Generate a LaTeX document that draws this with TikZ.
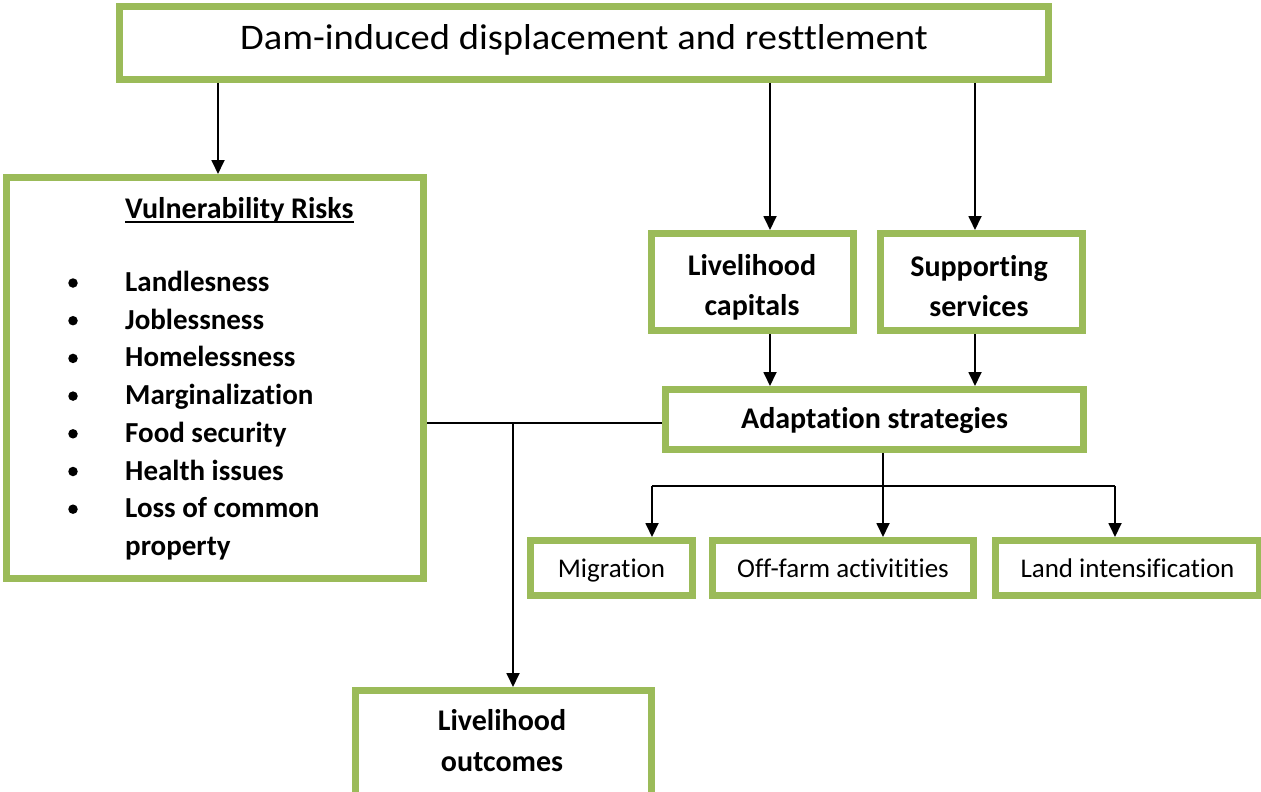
\documentclass[tikz,border=0pt]{standalone}
\usepackage{fontspec}
\setmainfont{Carlito}[Ligatures=NoCommon]
\newfontfamily\titlefont{Carlito}[Ligatures=NoCommon, FakeStretch=1.07]
\usetikzlibrary{arrows.meta}
\definecolor{boxgreen}{HTML}{9BBB59}
\begin{document}
\begin{tikzpicture}[x=1pt,y=-1pt,
  gbox/.style={draw=boxgreen, line width=7pt, fill=white, inner sep=0pt, align=center},
  arr/.style={line width=1.8pt, -{Triangle[length=14pt,width=13pt]}},
  conn/.style={line width=1.8pt},
  boldtxt/.style={font=\fontsize{29}{40}\selectfont\bfseries},
  boxbold/.style={font=\fontsize{30}{40}\selectfont\bfseries},
  plaintxt/.style={font=\fontsize{27}{33}\selectfont, text height=24pt, text depth=5.4pt},
  linetxt/.style={boxbold, anchor=base, inner sep=0pt},
  dot/.style={circle, fill=black, inner sep=0pt, minimum size=9.5pt},
  itemtxt/.style={boldtxt, anchor=base west, inner sep=0pt}]
\useasboundingbox (0,0) rectangle (1261,792);
\clip (0,0) rectangle (1261,792);
\fill[white] (0,0) rectangle (1261,792);

% boxes
\node[gbox, minimum width=929pt, minimum height=73pt, font=\titlefont\fontsize{36}{44}\selectfont, text height=26pt, text depth=12.6pt] (top) at (584,43) {Dam-induced displacement and resttlement};
\node[gbox, minimum width=417pt, minimum height=401pt] (vuln) at (215,378) {};
\node[gbox, minimum width=202pt, minimum height=97pt] (cap) at (752.5,282) {};
\node[gbox, minimum width=202pt, minimum height=97pt] (serv) at (981.5,282) {};
\node[gbox, boxbold, text height=24pt, text depth=6.4pt, minimum width=418pt, minimum height=60pt] (adapt) at (874.5,419.5) {Adaptation strategies};
\node[gbox, plaintxt, minimum width=162pt, minimum height=55pt] (migr) at (611.5,568) {Migration};
\node[gbox, plaintxt, minimum width=261pt, minimum height=55pt] (off) at (843,568) {Off-farm activitities};
\node[gbox, plaintxt, minimum width=264pt, minimum height=55pt] (land) at (1127.5,568) {Land intensification};
\node[gbox, minimum width=296pt, minimum height=106pt] (outc) at (503.5,743.5) {};

% two-line box texts
\node[linetxt] (cap1) at (752,275.5) {Livelihood};
\node[linetxt] (cap2) at (752,315.5) {capitals};
\node[linetxt] (serv1) at (979,276) {Supporting};
\node[linetxt] (serv2) at (979,316) {services};
\node[linetxt] (outc1) at (502,730) {Livelihood};
\node[linetxt] (outc2) at (502,771) {outcomes};

% vulnerability contents
\node[itemtxt, font=\fontsize{30}{40}\selectfont\bfseries] (vt) at (125,218) {Vulnerability Risks};
\draw[line width=1.8pt] ([yshift=-4.3pt]vt.base west) -- ([yshift=-4.3pt]vt.base east);
\foreach \t [count=\i] in {Landlesness,Joblessness,Homelessness,Marginalization,Food security,Health issues,Loss of common}{
  \node[itemtxt] (it\i) at (125,{291.5+37.7*(\i-1)}) {\t};
  \node[dot] (bu\i) at (73,{283+37.7*(\i-1)}) {};
}
\node[itemtxt] (it8) at (125,555.4) {property};

% connector coordinates
\coordinate (xa) at (218,0);
\coordinate (xb) at (770,0);
\coordinate (xc) at (975,0);
\coordinate (j) at (513,423);
\coordinate (br) at (883,486);
\coordinate (xm) at (652,0);
\coordinate (xl) at (1115,0);

% connectors
\draw[arr] (top.south -| xa) -- (vuln.north -| xa);
\draw[arr] (top.south -| xb) -- (cap.north -| xb);
\draw[arr] (top.south -| xc) -- (serv.north -| xc);
\draw[arr] (cap.south -| xb) -- (adapt.north -| xb);
\draw[arr] (serv.south -| xc) -- (adapt.north -| xc);
\draw[conn] (vuln.east |- j) -- (adapt.west |- j);
\draw[arr] (j) -- (outc.north -| j);
\draw[conn] (adapt.south -| br) -- (br);
\draw[conn] (br -| xm) -- (br -| xl);
\draw[arr] (br -| xm) -- (migr.north -| xm);
\draw[arr] (br) -- (off.north -| br);
\draw[arr] (br -| xl) -- (land.north -| xl);
\end{tikzpicture}
\end{document}
